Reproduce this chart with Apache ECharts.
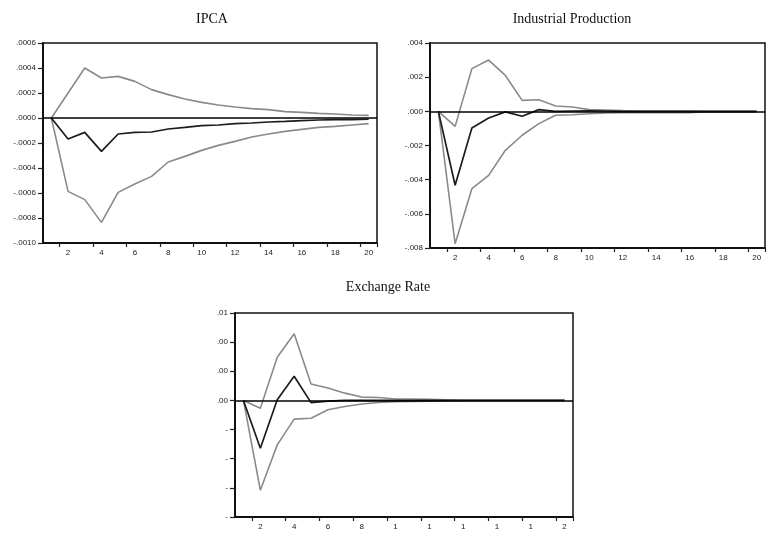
<!DOCTYPE html>
<html>
<head>
<meta charset="utf-8">
<script src="https://cdn.jsdelivr.net/npm/echarts@6.0.0/dist/echarts.min.js"></script>
<style>
  html, body { margin: 0; padding: 0; background: #fff; }
  #chart { width: 767px; height: 536px; }
</style>
</head>
<body>
<div id="chart"></div>
<script>
// periods 1..20
var periods = [];
for (var i = 1; i <= 20; i++) periods.push(String(i));

// IPCA
var ipcaResp = [0, -0.000168, -0.000115, -0.000267, -0.000128, -0.000115, -0.000112, -0.000088, -0.000075, -0.000061,
  -0.000056, -0.000045, -0.00004, -0.000032, -0.000027, -0.000021, -0.000016, -0.000013, -0.000013, -0.00001];
var ipcaUp = [0, 0.0002, 0.0004, 0.00032, 0.000333, 0.000293, 0.000227, 0.000187, 0.000152, 0.000125,
  0.000104, 0.000088, 0.000075, 0.000067, 0.000051, 0.000045, 0.000037, 0.000032, 0.000024, 0.000021];
var ipcaLow = [0, -0.000587, -0.000653, -0.000835, -0.000595, -0.000528, -0.000467, -0.000352, -0.000307, -0.000259,
  -0.000219, -0.000187, -0.000152, -0.000128, -0.000107, -0.000091, -0.000075, -0.000067, -0.000056, -0.000045];

// Industrial Production
var ipResp = [0, -0.00433, -0.00098, -0.00039, -0.00003, -0.00029, 0.0001, 0, 0.00002, 0.00003,
  0.00002, 0, 0, 0, 0, 0, 0, 0, 0, 0];
var ipUp = [0, -0.00088, 0.0025, 0.003, 0.0021, 0.00064, 0.00068, 0.00031, 0.00025, 0.0001,
  0.00008, 0.00004, 0.00002, 0.00002, 0.00002, 0.00002, 0, 0, 0, 0];
var ipLow = [0, -0.00775, -0.00453, -0.00375, -0.00228, -0.0014, -0.00072, -0.00023, -0.0002, -0.00014,
  -0.0001, -0.00008, -0.00008, -0.00008, -0.00008, -0.00008, -0.00002, -0.00002, -0.00002, -0.00002];

// Exchange Rate
var erResp = [0, -0.00657, 0.0001, 0.00331, -0.0003, -0.0001, 0, 0, 0, 0,
  0, 0, 0, 0, 0, 0, 0, 0, 0, 0];
var erUp = [0, -0.00106, 0.00593, 0.00915, 0.00225, 0.0017, 0.001, 0.00046, 0.0004, 0.0002,
  0.0002, 0.00015, 0.0001, 0.00002, 0.00002, 0.00002, 0.00002, 0.00002, 0.00002, 0.00002];
var erLow = [0, -0.01232, -0.0061, -0.00257, -0.00244, -0.00129, -0.00083, -0.0005, -0.00028, -0.00018,
  -0.00014, -0.00012, -0.00005, -0.00002, 0, 0, 0, 0, 0, 0];
// tick labels as printed (cut off) on the exchange rate panel, bottom to top
var erTickLabels = ['-', '-', '-', '-', '.00', '.00', '.00', '.01'];

var chart = echarts.init(document.getElementById('chart'));

var labelFont = { fontFamily: 'Liberation Sans', fontSize: 8, color: '#222' };

function xAxisOf(gi, cut) {
  return {
    type: 'category', gridIndex: gi, data: periods, boundaryGap: true,
    axisLine: { onZero: false, lineStyle: { color: '#111', width: 2 } },
    axisTick: { show: true, length: 4, lineStyle: { color: '#222', width: 1.2 } },
    axisLabel: Object.assign({}, labelFont, {
      margin: 6,
      interval: function (idx) { return idx % 2 === 1; },
      formatter: function (v) { return cut ? v.charAt(0) : v; }
    }),
    splitLine: { show: false }
  };
}

function yAxisOf(gi, min, max, step, fmt) {
  return {
    type: 'value', gridIndex: gi, min: min, max: max, interval: step,
    axisLine: { show: true, lineStyle: { color: '#111', width: 2 } },
    axisTick: { show: true, length: 5, lineStyle: { color: '#222', width: 1.2 } },
    axisLabel: Object.assign({}, labelFont, { margin: 7, formatter: fmt }),
    splitLine: { show: false }
  };
}

function fmtDec(n) {
  return function (v) {
    var s = Math.abs(v).toFixed(n).replace(/^0/, '');
    return (v < -1e-12 ? '-' : '') + s;
  };
}

function band(gi, data) {
  return {
    type: 'line', xAxisIndex: gi, yAxisIndex: gi, data: data, showSymbol: false,
    lineStyle: { color: '#8a8a8a', width: 1.6 }, z: 2, silent: true
  };
}

function resp(gi, data) {
  return {
    type: 'line', xAxisIndex: gi, yAxisIndex: gi, data: data, showSymbol: false,
    lineStyle: { color: '#1c1c1c', width: 1.7 }, z: 3, silent: true,
    markLine: {
      silent: true, symbol: 'none', label: { show: false },
      lineStyle: { color: '#000', width: 1.5, type: 'solid' },
      data: [{ yAxis: 0 }]
    }
  };
}

var titleStyle = { fontFamily: 'Liberation Serif', fontSize: 14, fontWeight: 'normal', color: '#111' };

var option = {
  animation: false,
  backgroundColor: '#fff',
  title: [
    { text: 'IPCA', left: 207, top: 7, textAlign: 'center', textStyle: titleStyle },
    { text: 'Industrial Production', left: 567, top: 7, textAlign: 'center', textStyle: titleStyle },
    { text: 'Exchange Rate', left: 383, top: 275, textAlign: 'center', textStyle: titleStyle }
  ],
  grid: [
    { left: 43, top: 43, width: 334, height: 200, show: true, borderColor: '#111', borderWidth: 1.5 },
    { left: 430, top: 43, width: 335, height: 205, show: true, borderColor: '#111', borderWidth: 1.5 },
    { left: 235, top: 313, width: 338, height: 204, show: true, borderColor: '#111', borderWidth: 1.5 }
  ],
  xAxis: [xAxisOf(0, false), xAxisOf(1, false), xAxisOf(2, true)],
  yAxis: [
    yAxisOf(0, -0.001, 0.0006, 0.0002, fmtDec(4)),
    yAxisOf(1, -0.008, 0.004, 0.002, fmtDec(3)),
    yAxisOf(2, -0.016, 0.012, 0.004, function (v) {
      return erTickLabels[Math.round((v + 0.016) / 0.004)];
    })
  ],
  series: [
    band(0, ipcaUp), band(0, ipcaLow), resp(0, ipcaResp),
    band(1, ipUp), band(1, ipLow), resp(1, ipResp),
    band(2, erUp), band(2, erLow), resp(2, erResp)
  ]
};

chart.setOption(option);
</script>
</body>
</html>
